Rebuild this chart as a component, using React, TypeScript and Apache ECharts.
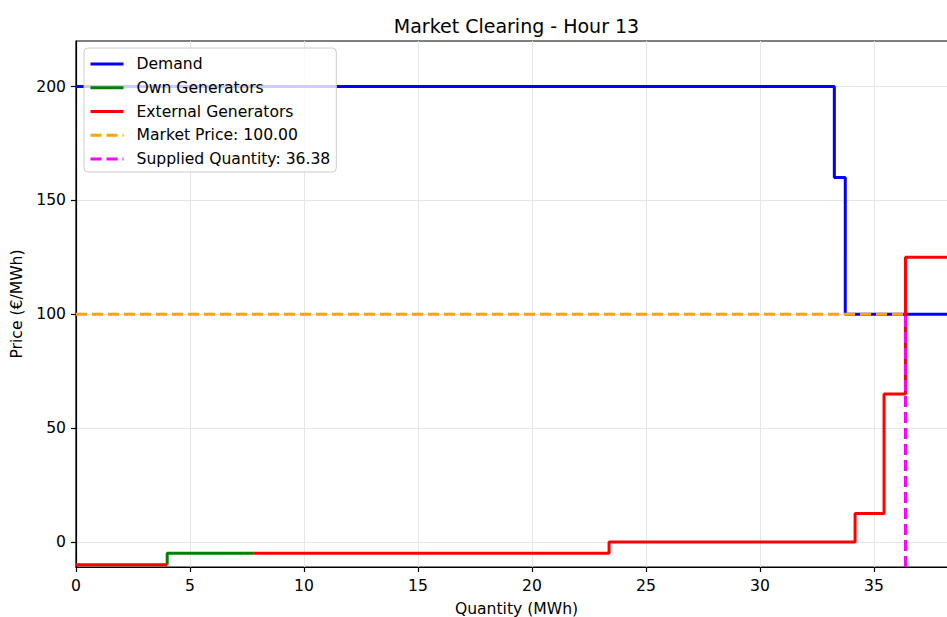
import React, { useEffect, useRef } from "react";
import * as echarts from "echarts";

const xMax = 38.64;
const yMin = -11;
const yMax = 220;
const xTickStep = 5;
const yTickValues = [0, 50, 100, 150, 200];

const demandQty = [0, 33.26, 33.74, xMax];
const demandPrice = [200, 160, 100, 100];

const ownQty = [4, 4, 7.8];
const ownPrice = [-10, -5, -5];

const extQtyA = [0, 4];
const extPriceA = [-10, -10];
const extQtyB = [7.8, 23.38, 34.17, 35.44, 36.38, xMax];
const extPriceB = [-5, 0, 12.5, 65, 125, 125];

const marketPrice = 100;
const suppliedQty = 36.38;

const FONT = "DejaVu Sans";

const zip = (xs: number[], ys: number[]) => xs.map((x, i) => [x, ys[i]]);

export default function App() {
  const ref = useRef<HTMLDivElement>(null);
  useEffect(() => {
    if (!ref.current) return;
    const chart = echarts.init(ref.current, undefined, { renderer: "svg" });
    const lw = 3;
    const dash = [11, 5];
    const fs = 15.6;
    chart.setOption({
      animation: false,
      backgroundColor: "#ffffff",
      textStyle: { fontFamily: FONT },
      title: {
        text: "Market Clearing - Hour 13",
        left: "center",
        top: 16,
        padding: 0,
        textStyle: { fontFamily: FONT, fontSize: 19, fontWeight: "normal", color: "#000" },
      },
      grid: {
        left: 76,
        top: 41,
        width: 881,
        height: 526,
        containLabel: false,
        outerBoundsMode: "none",
        show: true,
        borderColor: "#000",
        borderWidth: 1.2,
        backgroundColor: "transparent",
      },
      legend: {
        orient: "vertical",
        left: 84,
        top: 48,
        padding: [8, 6, 5, 5],
        itemWidth: 33,
        itemHeight: 14,
        itemGap: 7.75,
        backgroundColor: "rgba(255,255,255,0.8)",
        borderColor: "#cccccc",
        borderWidth: 1,
        borderRadius: 4,
        itemStyle: { opacity: 0 },
        lineStyle: { width: 3 },
        textStyle: { fontFamily: FONT, fontSize: fs, color: "#000", padding: [0, 0, 0, 8] },
        data: [
          "Demand",
          "Own Generators",
          "External Generators",
          `Market Price: ${marketPrice.toFixed(2)}`,
          `Supplied Quantity: ${suppliedQty.toFixed(2)}`,
        ],
      },
      xAxis: {
        type: "value",
        min: 0,
        max: xMax,
        interval: xTickStep,
        name: "Quantity (MWh)",
        nameLocation: "middle",
        nameGap: 34,
        nameTextStyle: { fontFamily: FONT, fontSize: fs, color: "#000" },
        axisLine: { show: true, onZero: false, lineStyle: { color: "#000", width: 1.2 } },
        axisTick: { show: true, length: 5, lineStyle: { color: "#000", width: 1.2 } },
        axisLabel: { fontFamily: FONT, fontSize: fs, color: "#000", margin: 11, showMaxLabel: false },
        splitLine: { show: true, lineStyle: { color: "#e6e6e6", width: 1 } },
      },
      yAxis: {
        type: "value",
        min: yMin,
        max: yMax,
        name: "Price (€/MWh)",
        nameLocation: "middle",
        nameRotate: 90,
        nameGap: 50,
        nameTextStyle: { fontFamily: FONT, fontSize: fs, color: "#000" },
        axisLine: { show: true, onZero: false, lineStyle: { color: "#000", width: 1.2 } },
        axisTick: { show: true, length: 5, customValues: yTickValues, lineStyle: { color: "#000", width: 1.2 } },
        axisLabel: { fontFamily: FONT, fontSize: fs, color: "#000", margin: 10, customValues: yTickValues },
        splitLine: { show: true, lineStyle: { color: "#e6e6e6", width: 1 } },
      },
      series: [
        {
          name: "Demand",
          type: "line",
          step: "end",
          symbol: "none",
          data: zip(demandQty, demandPrice),
          lineStyle: { color: "#0000ff", width: lw },
          itemStyle: { color: "#0000ff" },
          z: 2,
        },
        {
          name: "Own Generators",
          type: "line",
          symbol: "none",
          data: zip(ownQty, ownPrice),
          lineStyle: { color: "#008000", width: lw },
          itemStyle: { color: "#008000" },
          z: 3,
        },
        {
          name: "External Generators",
          type: "line",
          symbol: "none",
          data: zip(extQtyA, extPriceA),
          lineStyle: { color: "#ff0000", width: lw },
          itemStyle: { color: "#ff0000" },
          z: 4,
        },
        {
          name: "External Generators",
          type: "line",
          step: "end",
          symbol: "none",
          data: zip(extQtyB, extPriceB),
          lineStyle: { color: "#ff0000", width: lw },
          itemStyle: { color: "#ff0000" },
          z: 4,
        },
        {
          name: `Market Price: ${marketPrice.toFixed(2)}`,
          type: "line",
          symbol: "none",
          data: [
            [0, marketPrice],
            [suppliedQty, marketPrice],
          ],
          lineStyle: { color: "#ffa500", width: lw, type: dash },
          itemStyle: { color: "#ffa500" },
          z: 5,
        },
        {
          name: `Supplied Quantity: ${suppliedQty.toFixed(2)}`,
          type: "line",
          symbol: "none",
          data: [
            [suppliedQty, yMin],
            [suppliedQty, marketPrice],
          ],
          lineStyle: { color: "#ff00ff", width: lw, type: dash },
          itemStyle: { color: "#ff00ff" },
          z: 6,
        },
      ],
    });
    return () => chart.dispose();
  }, []);
  return (
    <div style={{ position: "fixed", left: 0, top: 0, width: 947, height: 617, overflow: "hidden", background: "#fff" }}>
      <div ref={ref} style={{ width: 1033, height: 617 }} />
    </div>
  );
}
